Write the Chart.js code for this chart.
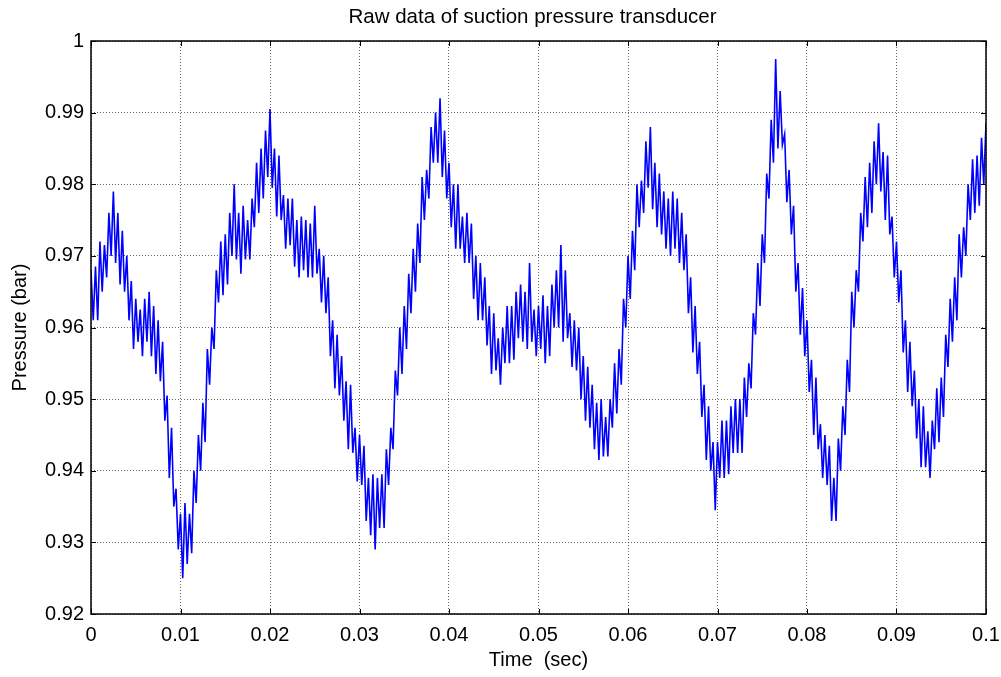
<!DOCTYPE html>
<html>
<head>
<meta charset="utf-8">
<title>Raw data of suction pressure transducer</title>
<script src="https://cdn.jsdelivr.net/npm/chart.js@4.4.0/dist/chart.umd.min.js"></script>
<style>
  html, body { margin: 0; padding: 0; background: #fff; }
  #wrap { width: 1001px; height: 677px; }
</style>
</head>
<body>
<div id="wrap"><canvas id="pressureChart" width="1001" height="677"></canvas></div>
<script>
// sampled pressure (bar), one sample every 0.25 ms from 0 to 0.1 s
const sampleStep = 0.00025;
const pressure = [
  0.968, 0.961, 0.9685, 0.961, 0.972, 0.965, 0.9715, 0.967,
  0.976, 0.970, 0.979, 0.969, 0.976, 0.966, 0.9735, 0.965,
  0.970, 0.961, 0.9665, 0.957, 0.964, 0.958, 0.9625, 0.956,
  0.964, 0.958, 0.965, 0.956, 0.963, 0.9535, 0.961, 0.9525,
  0.958, 0.947, 0.9505, 0.939, 0.946, 0.935, 0.9375, 0.929,
  0.934, 0.925, 0.9355, 0.927, 0.934, 0.9285, 0.940, 0.9355,
  0.945, 0.940, 0.9495, 0.944, 0.957, 0.952, 0.960, 0.957,
  0.968, 0.9635, 0.972, 0.9645, 0.973, 0.966, 0.976, 0.970,
  0.980, 0.9695, 0.976, 0.9675, 0.977, 0.9695, 0.975, 0.9695,
  0.978, 0.974, 0.983, 0.976, 0.985, 0.978, 0.9875, 0.981,
  0.9905, 0.9795, 0.985, 0.9755, 0.984, 0.975, 0.9785, 0.971,
  0.978, 0.9715, 0.978, 0.9685, 0.975, 0.967, 0.9755, 0.968,
  0.975, 0.967, 0.9745, 0.967, 0.977, 0.9675, 0.971, 0.9635,
  0.970, 0.962, 0.967, 0.956, 0.961, 0.9515, 0.959, 0.9505,
  0.956, 0.947, 0.9525, 0.943, 0.952, 0.9425, 0.946, 0.9385,
  0.945, 0.938, 0.9435, 0.933, 0.939, 0.931, 0.9395, 0.929,
  0.939, 0.932, 0.9395, 0.932, 0.943, 0.938, 0.946, 0.943,
  0.954, 0.9505, 0.960, 0.9535, 0.963, 0.957, 0.9675, 0.962,
  0.971, 0.965, 0.9745, 0.969, 0.981, 0.975, 0.982, 0.978,
  0.988, 0.983, 0.990, 0.983, 0.992, 0.981, 0.9875, 0.978,
  0.983, 0.974, 0.980, 0.971, 0.980, 0.971, 0.9755, 0.969,
  0.976, 0.969, 0.9745, 0.964, 0.970, 0.961, 0.969, 0.961,
  0.967, 0.9575, 0.963, 0.9535, 0.962, 0.954, 0.9585, 0.952,
  0.960, 0.955, 0.963, 0.955, 0.963, 0.9555, 0.965, 0.9585,
  0.966, 0.958, 0.965, 0.957, 0.969, 0.958, 0.9625, 0.956,
  0.963, 0.957, 0.9645, 0.955, 0.963, 0.956, 0.966, 0.960,
  0.968, 0.960, 0.9715, 0.958, 0.968, 0.9585, 0.962, 0.9545,
  0.961, 0.954, 0.960, 0.950, 0.956, 0.947, 0.9545, 0.946,
  0.952, 0.943, 0.9495, 0.9415, 0.950, 0.942, 0.9475, 0.942,
  0.950, 0.946, 0.955, 0.948, 0.957, 0.952, 0.964, 0.960,
  0.970, 0.964, 0.9735, 0.968, 0.980, 0.974, 0.9805, 0.976,
  0.986, 0.9795, 0.988, 0.9765, 0.983, 0.974, 0.9815, 0.973,
  0.979, 0.971, 0.978, 0.970, 0.979, 0.971, 0.978, 0.969,
  0.976, 0.968, 0.973, 0.962, 0.967, 0.9565, 0.963, 0.9535,
  0.958, 0.9475, 0.952, 0.9415, 0.949, 0.940, 0.944, 0.9345,
  0.944, 0.939, 0.947, 0.939, 0.947, 0.9395, 0.949, 0.9425,
  0.950, 0.9425, 0.950, 0.9425, 0.953, 0.9475, 0.955, 0.9515,
  0.962, 0.959, 0.969, 0.963, 0.973, 0.969, 0.9815, 0.978,
  0.989, 0.983, 0.9975, 0.985, 0.993, 0.9855, 0.987, 0.9775,
  0.982, 0.973, 0.977, 0.965, 0.969, 0.959, 0.9655, 0.956,
  0.961, 0.951, 0.9555, 0.945, 0.953, 0.943, 0.9465, 0.939,
  0.945, 0.938, 0.9435, 0.933, 0.939, 0.933, 0.9445, 0.940,
  0.949, 0.945, 0.9555, 0.951, 0.965, 0.960, 0.968, 0.965,
  0.976, 0.972, 0.981, 0.974, 0.983, 0.976, 0.986, 0.980,
  0.9885, 0.979, 0.9845, 0.975, 0.984, 0.973, 0.9755, 0.967,
  0.972, 0.9635, 0.968, 0.9565, 0.961, 0.951, 0.958, 0.949,
  0.954, 0.9445, 0.950, 0.9405, 0.949, 0.9405, 0.9455, 0.939,
  0.947, 0.943, 0.9515, 0.944, 0.953, 0.9475, 0.959, 0.9545,
  0.964, 0.958, 0.967, 0.961, 0.973, 0.967, 0.974, 0.970,
  0.980, 0.975, 0.9835, 0.976, 0.984, 0.977, 0.9865, 0.980,
  0.9885
];

const xTicks = [0, 0.01, 0.02, 0.03, 0.04, 0.05, 0.06, 0.07, 0.08, 0.09, 0.1];
const xTickLabels = ['0', '0.01', '0.02', '0.03', '0.04', '0.05', '0.06', '0.07', '0.08', '0.09', '0.1'];
const yTicks = [0.92, 0.93, 0.94, 0.95, 0.96, 0.97, 0.98, 0.99, 1];
const yTickLabels = ['0.92', '0.93', '0.94', '0.95', '0.96', '0.97', '0.98', '0.99', '1'];
const chartTitle = 'Raw data of suction pressure transducer';

const points = pressure.map((p, i) => ({ x: i * sampleStep, y: p }));

const fontFamily = "'Liberation Sans', Arial, Helvetica, sans-serif";
Chart.defaults.color = '#000';
Chart.defaults.font.family = fontFamily;

// matlab style box with inward ticks on all four sides, title over the axes
const boxTicks = {
  id: 'boxTicks',
  afterDraw(chart) {
    const { ctx, chartArea: a, scales } = chart;
    const len = 5;
    ctx.save();
    ctx.strokeStyle = '#000';
    ctx.lineWidth = 1;
    ctx.beginPath();
    xTicks.forEach(v => {
      const px = Math.round(scales.x.getPixelForValue(v)) + 0.5;
      ctx.moveTo(px, a.bottom); ctx.lineTo(px, a.bottom - len);
      ctx.moveTo(px, a.top); ctx.lineTo(px, a.top + len);
    });
    yTicks.forEach(v => {
      const py = Math.round(scales.y.getPixelForValue(v)) + 0.5;
      ctx.moveTo(a.left, py); ctx.lineTo(a.left + len, py);
      ctx.moveTo(a.right, py); ctx.lineTo(a.right - len, py);
    });
    ctx.stroke();
    ctx.lineWidth = 1.5;
    ctx.strokeRect(Math.round(a.left), Math.round(a.top), Math.round(a.width), Math.round(a.height));

    ctx.fillStyle = '#000';
    ctx.font = '20.5px ' + fontFamily;
    ctx.textAlign = 'center';
    ctx.textBaseline = 'middle';
    ctx.fillText(chartTitle, (a.left + a.right) / 2 - 6, 17);
    ctx.restore();
  }
};

new Chart(document.getElementById('pressureChart'), {
  type: 'line',
  data: {
    datasets: [{
      label: 'Pressure',
      data: points,
      borderColor: '#0000ff',
      borderWidth: 1.6,
      pointRadius: 0,
      tension: 0,
      fill: false
    }]
  },
  options: {
    responsive: false,
    animation: false,
    events: [],
    layout: { padding: { left: 0, right: 15, top: 41, bottom: 0 } },
    plugins: {
      legend: { display: false },
      tooltip: { enabled: false },
      title: { display: false }
    },
    scales: {
      x: {
        type: 'linear',
        min: 0,
        max: 0.1,
        afterFit(s) { s.height = 63; s.paddingRight = 0; s.paddingLeft = 0; },
        afterBuildTicks(s) { s.ticks = xTicks.map(v => ({ value: v })); },
        ticks: {
          padding: 9,
          maxRotation: 0,
          autoSkip: false,
          font: { size: 20 },
          callback: (v, i) => xTickLabels[i]
        },
        grid: { color: 'rgba(0,0,0,0.6)', drawTicks: false, lineWidth: 1 },
        border: { display: false, dash: [1, 2] },
        title: { display: true, text: 'Time  (sec)', font: { size: 20 }, padding: { top: 0, bottom: 5 } }
      },
      y: {
        type: 'linear',
        min: 0.92,
        max: 1,
        afterFit(s) { s.width = 91; s.paddingTop = 0; s.paddingBottom = 0; },
        afterBuildTicks(s) { s.ticks = yTicks.map(v => ({ value: v })); },
        ticks: {
          padding: 7,
          autoSkip: false,
          font: { size: 20 },
          callback: (v, i) => yTickLabels[i]
        },
        grid: { color: 'rgba(0,0,0,0.6)', drawTicks: false, lineWidth: 1 },
        border: { display: false, dash: [1, 2] },
        title: { display: true, text: 'Pressure (bar)', font: { size: 20 }, padding: { top: 8, bottom: 0 } }
      }
    }
  },
  plugins: [boxTicks]
});
</script>
</body>
</html>
